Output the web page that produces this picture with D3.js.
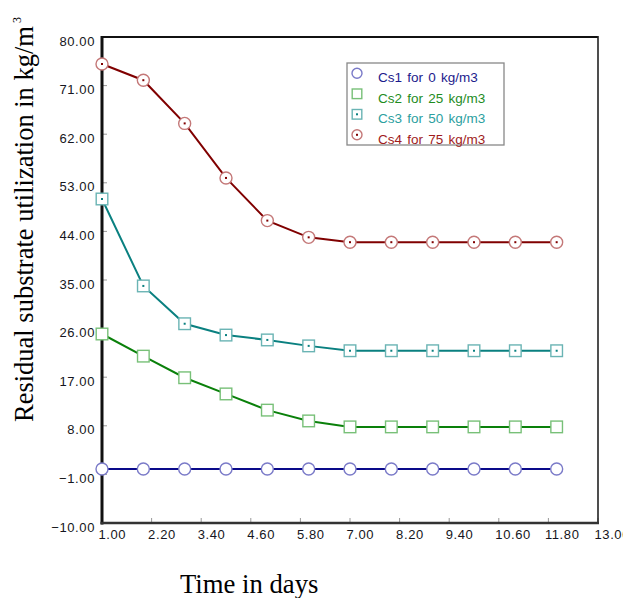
<!DOCTYPE html>
<html><head><meta charset="utf-8">
<script src="https://cdn.jsdelivr.net/npm/d3@7"></script>
<style>body{margin:0;background:#fff}svg{display:block}</style>
</head><body>
<script>
const days = [1,2,3,4,5,6,7,8,9,10,11,12];
const cs1 = [0,0,0,0,0,0,0,0,0,0,0,0];
const cs2 = [25,20.9,16.9,13.9,10.9,8.9,7.8,7.8,7.8,7.8,7.8,7.8];
const cs3 = [50,33.9,26.9,24.8,23.9,22.8,21.9,21.9,21.9,21.9,21.9,21.9];
const cs4 = [75,72,64,53.9,46,42.9,42,42,42,42,42,42];
const seriesNames = ["Cs1 for 0 kg/m3","Cs2 for 25 kg/m3","Cs3 for 50 kg/m3","Cs4 for 75 kg/m3"];
const xTicks = [1.0,2.2,3.4,4.6,5.8,7.0,8.2,9.4,10.6,11.8,13.0];
const yTicks = [80,71,62,53,44,35,26,17,8,-1,-10];

const W=623,H=598;
const L=102,R=598,T=37,B=523;
const svg=d3.select("body").append("svg").attr("width",W).attr("height",H);
const x=d3.scaleLinear().domain([1,13]).range([L,R]);
const y=d3.scaleLinear().domain([-10,80]).range([B,T]);

const styles=[
 {line:"#0a0a8a",mk:"#7a7ac8",txt:"#1c1c8c",shape:"circle",dot:false},
 {line:"#0a800a",mk:"#78c078",txt:"#1e8c1e",shape:"square",dot:false},
 {line:"#0a8080",mk:"#6ab4b4",txt:"#2ca0a0",shape:"square",dot:true},
 {line:"#800000",mk:"#c47878",txt:"#a01c1c",shape:"circle",dot:true}
];
const data=[cs1,cs2,cs3,cs4];

const ga=svg.append("g").attr("font-family","Arial, 'Liberation Sans', sans-serif").attr("font-size",13).attr("letter-spacing",0.6).attr("fill","#151520");
xTicks.forEach(t=>{
  svg.append("line").attr("x1",x(t)).attr("x2",x(t)).attr("y1",B).attr("y2",B-5).attr("stroke","#999").attr("stroke-width",1);
  ga.append("text").attr("x",x(t)-3.5).attr("y",B+16).attr("text-anchor","start").text(d3.format(".2f")(t));
});
yTicks.forEach(t=>{
  svg.append("line").attr("x1",L).attr("x2",L+5).attr("y1",y(t)).attr("y2",y(t)).attr("stroke","#999").attr("stroke-width",1);
  ga.append("text").attr("x",95).attr("y",y(t)+8.5).attr("text-anchor","end").text(d3.format(".2f")(t));
});

// frame
svg.append("line").attr("x1",L).attr("x2",R).attr("y1",T).attr("y2",T).attr("stroke","#111").attr("stroke-width",2);
svg.append("line").attr("x1",R).attr("x2",R).attr("y1",T-1).attr("y2",B).attr("stroke","#222").attr("stroke-width",1.6);
svg.append("line").attr("x1",L).attr("x2",L).attr("y1",T-1).attr("y2",B+1.5).attr("stroke","#111").attr("stroke-width",3);
svg.append("line").attr("x1",L-1.5).attr("x2",R+1).attr("y1",B).attr("y2",B).attr("stroke","#333").attr("stroke-width",2.5);

const lineGen=d3.line().x((d,i)=>x(days[i])).y(d=>y(d));
function marker(g,cx,cy,st,r){
  if(st.shape==="circle"){
    g.append("circle").attr("cx",cx).attr("cy",cy).attr("r",r).attr("fill","#fff").attr("stroke",st.mk).attr("stroke-width",1.4);
  } else {
    g.append("rect").attr("x",cx-r).attr("y",cy-r).attr("width",2*r).attr("height",2*r).attr("fill","#fff").attr("stroke",st.mk).attr("stroke-width",1.4);
  }
  if(st.dot) g.append("rect").attr("x",cx-1).attr("y",cy-1).attr("width",2).attr("height",2).attr("fill",st.line);
}
data.forEach((vals,k)=>{
  const st=styles[k];
  svg.append("path").datum(vals).attr("d",lineGen).attr("fill","none").attr("stroke",st.line).attr("stroke-width",2);
  const g=svg.append("g");
  vals.forEach((v,i)=>marker(g,x(days[i]),y(v),st,st.shape==="circle"?6:5.8));
});

// legend
const lg=svg.append("g");
lg.append("rect").attr("x",347).attr("y",63).attr("width",157).attr("height",82).attr("fill","#fff").attr("stroke","#888").attr("stroke-width",1.3);
seriesNames.forEach((n,k)=>{
  const st=styles[k];
  const cy=73.3+k*20.5;
  marker(lg,357,cy,st,st.shape==="circle"?5:4.8);
  lg.append("text").attr("x",378).attr("y",cy+9).attr("font-family","Arial, 'Liberation Sans', sans-serif").attr("font-size",13.5).attr("fill",st.txt).attr("word-spacing",1.5).text(n);
});

// axis titles
svg.append("text").attr("x",180).attr("y",593).attr("font-family","'Liberation Serif','Times New Roman',serif").attr("font-size",26.7).attr("fill","#000").text("Time in days");
const yt=svg.append("text").attr("transform","translate(33,422) rotate(-90)").attr("font-family","'Liberation Serif','Times New Roman',serif").attr("font-size",26.5).attr("fill","#000");
yt.append("tspan").text("Residual substrate utilization in kg/m");
yt.append("tspan").attr("dx",3).attr("dy",-12).attr("font-size",12).text("3");
</script>
</body></html>
